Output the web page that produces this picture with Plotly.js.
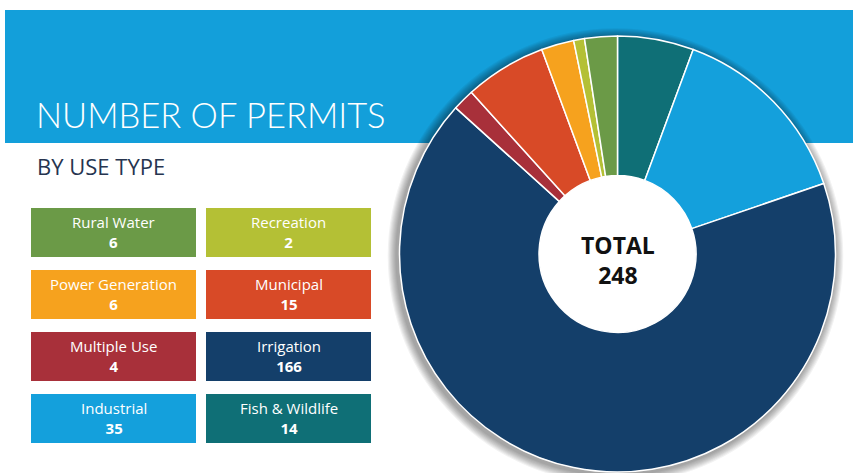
<!DOCTYPE html>
<html>
<head>
<meta charset="utf-8">
<script src="https://cdn.plot.ly/plotly-3.0.1.min.js"></script>
<style>html,body{margin:0;padding:0;background:#fff;}#chart{width:853px;height:473px;}</style>
</head>
<body>
<div id="chart"></div>
<script>
// Data (legend order, row by row)
var categories = ["Rural Water", "Recreation", "Power Generation", "Municipal", "Multiple Use", "Irrigation", "Industrial", "Fish & Wildlife"];
var permits = [6, 2, 6, 15, 4, 166, 35, 14];
var colors = ["#6b9a47", "#b4c035", "#f6a21e", "#d84a27", "#a8303a", "#143f6a", "#14a0dc", "#0f6f76"];
// Pie slice order, clockwise from 12 o'clock
var pieOrder = ["Fish & Wildlife", "Industrial", "Irrigation", "Multiple Use", "Municipal", "Power Generation", "Recreation", "Rural Water"];
var titleText = "NUMBER OF PERMITS";
var subtitleText = "BY USE TYPE";
var totalLabel = "TOTAL";

var W = 853, H = 473;
function px(x){ return x / W; }
function py(y){ return 1 - y / H; }

var pieLabels = [], pieValues = [], pieColors = [];
pieOrder.forEach(function(name){
  var i = categories.indexOf(name);
  pieLabels.push(name); pieValues.push(permits[i]); pieColors.push(colors[i]);
});
var total = permits.reduce(function(a,b){return a+b;}, 0);

var cx = 617.5, cy = 254, R = 218, holeFrac = 0.36;

var shapes = [];
// banner
shapes.push({type:"rect", xref:"paper", yref:"paper", x0:px(5), x1:px(853), y0:py(143), y1:py(10),
  fillcolor:"#139fda", line:{width:0}, layer:"below"});
// soft shadow behind pie (offset down-left)
for (var k = 8; k >= 1; k--) {
  var r = R + k*1.1;
  shapes.push({type:"circle", xref:"paper", yref:"paper",
    x0:px(cx - r - 3), x1:px(cx + r - 1), y0:py(cy + r + 3), y1:py(cy - r + 1),
    fillcolor:"rgba(0,0,0,0.05)", line:{width:0}, layer:"below"});
}
// white centre behind the hole
var rh = R*holeFrac + 2;
shapes.push({type:"circle", xref:"paper", yref:"paper",
  x0:px(cx - rh), x1:px(cx + rh), y0:py(cy + rh), y1:py(cy - rh),
  fillcolor:"#ffffff", line:{width:0}, layer:"below"});

var annotations = [];
annotations.push({xref:"paper", yref:"paper", x:px(34), y:py(114), xanchor:"left", yanchor:"middle",
  text:titleText, showarrow:false, font:{family:"Lato, Open Sans, sans-serif", size:34.5, color:"#ffffff", weight:300}});
annotations.push({xref:"paper", yref:"paper", x:px(35), y:py(166), xanchor:"left", yanchor:"middle",
  text:subtitleText, showarrow:false, font:{family:"Open Sans, sans-serif", size:22, color:"#26344f"}});

// legend tiles
var colX = [31, 206], tileW = 165, tileH = 49, rowTop = 208, rowStep = 62;
categories.forEach(function(name, i){
  var c = i % 2, r = Math.floor(i / 2);
  var x0 = colX[c], y0 = rowTop + r*rowStep;
  shapes.push({type:"rect", xref:"paper", yref:"paper", x0:px(x0), x1:px(x0+tileW), y0:py(y0+tileH), y1:py(y0),
    fillcolor:colors[i], line:{width:0}, layer:"below"});
  annotations.push({xref:"paper", yref:"paper", x:px(x0+tileW/2), y:py(y0+tileH/2 - 0.5), xanchor:"center", yanchor:"middle",
    text: name.replace("&","&amp;") + "<br><b>" + permits[i] + "</b>", showarrow:false, align:"center",
    font:{family:"Open Sans, sans-serif", size:15, color:"#ffffff"}});
});

// center total
annotations.push({xref:"paper", yref:"paper", x:px(cx), y:py(260), xanchor:"center", yanchor:"middle",
  text:"<b>"+totalLabel+"<br>"+total+"</b>", showarrow:false, align:"center",
  font:{family:"Open Sans, sans-serif", size:23, color:"#111111"}});

var trace = {
  type:"pie", labels:pieLabels, values:pieValues, sort:false, direction:"clockwise", rotation:0,
  hole:holeFrac, textinfo:"none", hoverinfo:"label+value",
  marker:{colors:pieColors, line:{color:"#ffffff", width:1.5}},
  domain:{x:[px(cx-R), px(cx+R)], y:[py(cy+R), py(cy-R)]},
  showlegend:false
};

var layout = {
  width:W, height:H, margin:{l:0,r:0,t:0,b:0},
  paper_bgcolor:"#ffffff", plot_bgcolor:"#ffffff",
  showlegend:false, shapes:shapes, annotations:annotations
};

Plotly.newPlot("chart", [trace], layout, {displayModeBar:false, staticPlot:true});
</script>
</body>
</html>
